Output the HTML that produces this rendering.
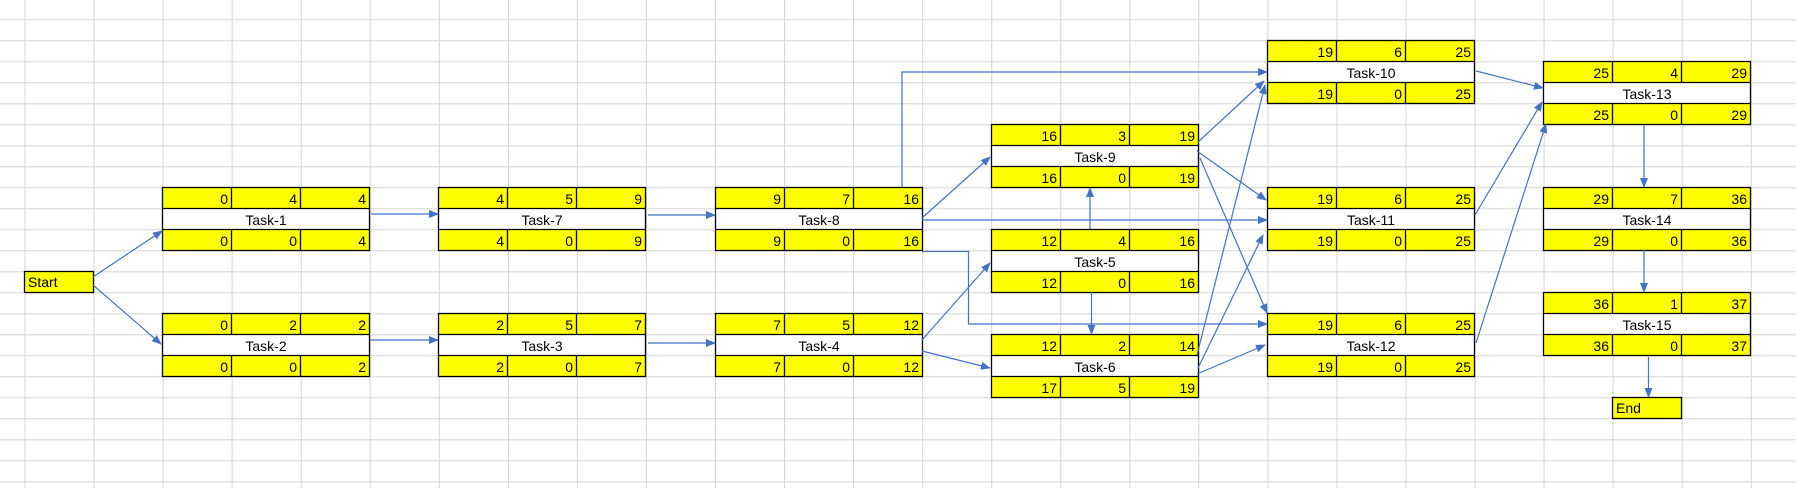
<!DOCTYPE html>
<html><head><meta charset="utf-8"><style>
html,body{margin:0;padding:0;background:#fff;}
svg{display:block;font-family:"Liberation Sans",sans-serif;font-size:14px;}
</style></head><body>
<svg width="1796" height="488" viewBox="0 0 1796 488" xmlns="http://www.w3.org/2000/svg">
<defs>
<pattern id="grid" patternUnits="userSpaceOnUse" x="24.5" y="19.3" width="69.05" height="21">
<path d="M0.5 0V21M0 0.5H69.05" stroke="#d4d4d4" stroke-width="1" fill="none"/>
</pattern>
<marker id="ah" markerWidth="10" markerHeight="8" refX="9" refY="4" orient="auto" markerUnits="userSpaceOnUse">
<path d="M0,0 L10,4 L0,8 z" fill="#4472C4"/>
</marker>
<g id="box">
<rect x="0.5" y="0.5" width="207" height="63" fill="#fff"/>
<rect x="0.5" y="0.5" width="207" height="21" fill="#ffff00"/>
<rect x="0.5" y="42.5" width="207" height="21" fill="#ffff00"/>
<g stroke="#000" stroke-width="1.3" fill="none">
<rect x="0.5" y="0.5" width="207" height="63"/>
<path d="M0.5 21.5H207.5M0.5 42.5H207.5M69.5 0.5V21.5M138.5 0.5V21.5M69.5 42.5V63.5M138.5 42.5V63.5"/>
</g>
</g>
</defs>
<rect width="1796" height="488" fill="url(#grid)"/>

<!-- nodes -->
<g>
<rect x="24.5" y="271.5" width="69" height="21" fill="#ffff00" stroke="#000" stroke-width="1.3"/>
<text x="28" y="287">Start</text>
<rect x="1612.5" y="397.5" width="69" height="21" fill="#ffff00" stroke="#000" stroke-width="1.3"/>
<text x="616" y="413" transform="translate(1000,0)">End</text>
</g>

<g transform="translate(162,187)"><use href="#box"/><g text-anchor="end"><text x="66" y="17">0</text><text x="135" y="17">4</text><text x="204" y="17">4</text><text x="66" y="59">0</text><text x="135" y="59">0</text><text x="204" y="59">4</text></g><text x="104" y="38" text-anchor="middle">Task-1</text></g>
<g transform="translate(162,313)"><use href="#box"/><g text-anchor="end"><text x="66" y="17">0</text><text x="135" y="17">2</text><text x="204" y="17">2</text><text x="66" y="59">0</text><text x="135" y="59">0</text><text x="204" y="59">2</text></g><text x="104" y="38" text-anchor="middle">Task-2</text></g>
<g transform="translate(438,187)"><use href="#box"/><g text-anchor="end"><text x="66" y="17">4</text><text x="135" y="17">5</text><text x="204" y="17">9</text><text x="66" y="59">4</text><text x="135" y="59">0</text><text x="204" y="59">9</text></g><text x="104" y="38" text-anchor="middle">Task-7</text></g>
<g transform="translate(438,313)"><use href="#box"/><g text-anchor="end"><text x="66" y="17">2</text><text x="135" y="17">5</text><text x="204" y="17">7</text><text x="66" y="59">2</text><text x="135" y="59">0</text><text x="204" y="59">7</text></g><text x="104" y="38" text-anchor="middle">Task-3</text></g>
<g transform="translate(715,187)"><use href="#box"/><g text-anchor="end"><text x="66" y="17">9</text><text x="135" y="17">7</text><text x="204" y="17">16</text><text x="66" y="59">9</text><text x="135" y="59">0</text><text x="204" y="59">16</text></g><text x="104" y="38" text-anchor="middle">Task-8</text></g>
<g transform="translate(715,313)"><use href="#box"/><g text-anchor="end"><text x="66" y="17">7</text><text x="135" y="17">5</text><text x="204" y="17">12</text><text x="66" y="59">7</text><text x="135" y="59">0</text><text x="204" y="59">12</text></g><text x="104" y="38" text-anchor="middle">Task-4</text></g>
<g transform="translate(991,124)"><use href="#box"/><g text-anchor="end"><text x="66" y="17">16</text><text x="135" y="17">3</text><text x="204" y="17">19</text><text x="66" y="59">16</text><text x="135" y="59">0</text><text x="204" y="59">19</text></g><text x="104" y="38" text-anchor="middle">Task-9</text></g>
<g transform="translate(991,229)"><use href="#box"/><g text-anchor="end"><text x="66" y="17">12</text><text x="135" y="17">4</text><text x="204" y="17">16</text><text x="66" y="59">12</text><text x="135" y="59">0</text><text x="204" y="59">16</text></g><text x="104" y="38" text-anchor="middle">Task-5</text></g>
<g transform="translate(991,334)"><use href="#box"/><g text-anchor="end"><text x="66" y="17">12</text><text x="135" y="17">2</text><text x="204" y="17">14</text><text x="66" y="59">17</text><text x="135" y="59">5</text><text x="204" y="59">19</text></g><text x="104" y="38" text-anchor="middle">Task-6</text></g>
<g transform="translate(1267,40)"><use href="#box"/><g text-anchor="end"><text x="66" y="17">19</text><text x="135" y="17">6</text><text x="204" y="17">25</text><text x="66" y="59">19</text><text x="135" y="59">0</text><text x="204" y="59">25</text></g><text x="104" y="38" text-anchor="middle">Task-10</text></g>
<g transform="translate(1267,187)"><use href="#box"/><g text-anchor="end"><text x="66" y="17">19</text><text x="135" y="17">6</text><text x="204" y="17">25</text><text x="66" y="59">19</text><text x="135" y="59">0</text><text x="204" y="59">25</text></g><text x="104" y="38" text-anchor="middle">Task-11</text></g>
<g transform="translate(1267,313)"><use href="#box"/><g text-anchor="end"><text x="66" y="17">19</text><text x="135" y="17">6</text><text x="204" y="17">25</text><text x="66" y="59">19</text><text x="135" y="59">0</text><text x="204" y="59">25</text></g><text x="104" y="38" text-anchor="middle">Task-12</text></g>
<g transform="translate(1543,61)"><use href="#box"/><g text-anchor="end"><text x="66" y="17">25</text><text x="135" y="17">4</text><text x="204" y="17">29</text><text x="66" y="59">25</text><text x="135" y="59">0</text><text x="204" y="59">29</text></g><text x="104" y="38" text-anchor="middle">Task-13</text></g>
<g transform="translate(1543,187)"><use href="#box"/><g text-anchor="end"><text x="66" y="17">29</text><text x="135" y="17">7</text><text x="204" y="17">36</text><text x="66" y="59">29</text><text x="135" y="59">0</text><text x="204" y="59">36</text></g><text x="104" y="38" text-anchor="middle">Task-14</text></g>
<g transform="translate(1543,292)"><use href="#box"/><g text-anchor="end"><text x="66" y="17">36</text><text x="135" y="17">1</text><text x="204" y="17">37</text><text x="66" y="59">36</text><text x="135" y="59">0</text><text x="204" y="59">37</text></g><text x="104" y="38" text-anchor="middle">Task-15</text></g>

<!-- connectors -->
<g stroke="#4472C4" stroke-width="1.2" fill="none" marker-end="url(#ah)">
<path d="M93 277L162 231"/>
<path d="M93 285L161 344"/>
<path d="M371 214H438"/>
<path d="M370 340H438"/>
<path d="M648 215H715"/>
<path d="M648 343H715"/>
<path d="M902 187V72H1267"/>
<path d="M922 218L990 157"/>
<path d="M922 220H1267"/>
<path d="M922 251.5H968.5V324H1267"/>
<path d="M922 340L990 263"/>
<path d="M922 351L990 368"/>
<path d="M1090 229V188"/>
<path d="M1091.5 292V334"/>
<path d="M1198 142L1264 81"/>
<path d="M1197 151L1266 200"/>
<path d="M1200 158L1267 313"/>
<path d="M1197 355L1265 85"/>
<path d="M1198 368L1263 235"/>
<path d="M1197 374L1265 345"/>
<path d="M1476 71L1543 88"/>
<path d="M1475 215L1542 102"/>
<path d="M1476 343L1546 124"/>
<path d="M1644 125V187"/>
<path d="M1644 250V292"/>
<path d="M1648.5 357V397"/>
</g>
</svg>
</body></html>
